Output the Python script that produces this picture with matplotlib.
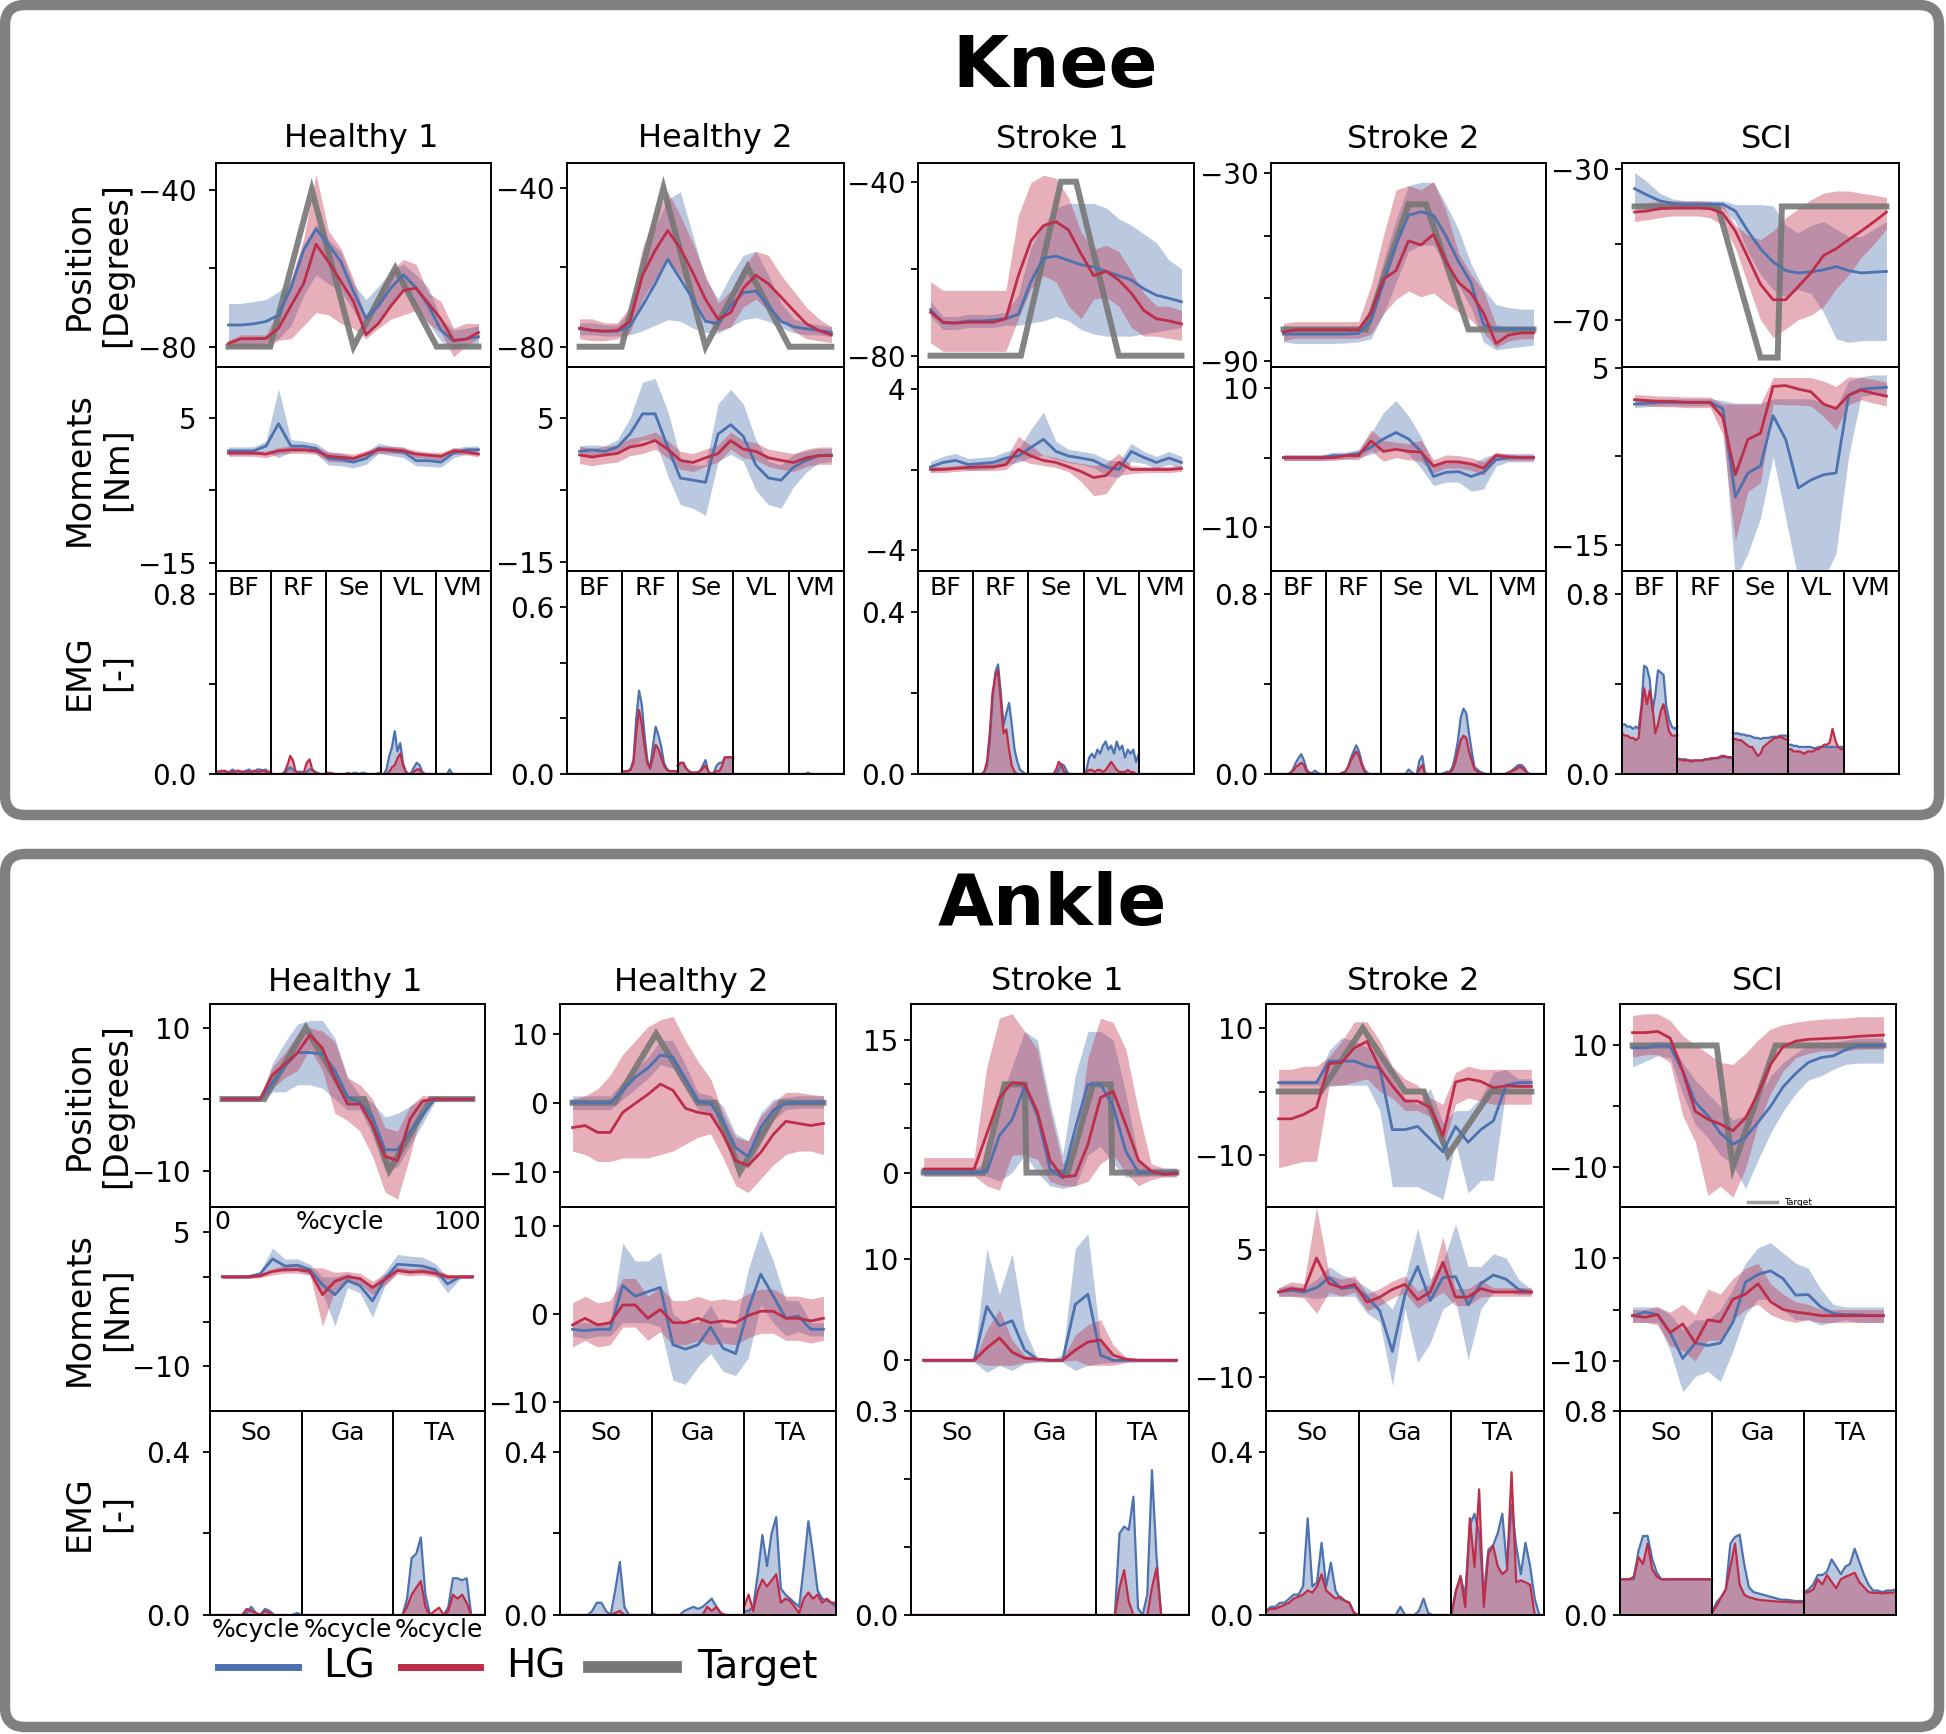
"""Knee and ankle panels: joint position, moments and EMG for LG / HG vs target."""
import matplotlib

matplotlib.use("Agg")
import matplotlib.pyplot as plt
from matplotlib.lines import Line2D
from matplotlib.patches import FancyBboxPatch

W, H = 1946, 1734
LG_COLOR = "#4c72b0"
HG_COLOR = "#be2e4b"
TARGET_COLOR = "#777777"

X = list(range(0, 101, 5))
GROUPS = ["Healthy 1", "Healthy 2", "Stroke 1", "Stroke 2", "SCI"]
KNEE_MUSCLES = ["BF", "RF", "Se", "VL", "VM"]
ANKLE_MUSCLES = ["So", "Ga", "TA"]

# ---------------- Knee: Healthy 1 ----------------
kh1_target_x = [0, 16.7, 33.3, 50, 66.7, 83.3, 100]
kh1_target_y = [-80, -80, -40, -80, -60, -80, -80]
kh1_pos_lg = [-74.5, -74.5, -74.2, -73.6, -72, -65, -55.5, -50, -54, -58.4, -66, -72.7, -69.6, -65, -61.7, -65, -69.6, -75.8, -78.6, -78, -77.5]
kh1_pos_lg_lo = [-79.8, -79.8, -79.5, -79, -78, -74.7, -67, -61.7, -64, -66, -70.8, -76.4, -74, -69.6, -65, -69.6, -74, -78.6, -80.3, -80.3, -79.8]
kh1_pos_lg_hi = [-69, -69, -68.5, -68, -66, -63, -54, -48.8, -52.7, -56, -64, -68, -64.6, -60.6, -59, -61.7, -65, -73, -75.8, -75.3, -74.7]
kh1_pos_hg = [-79.2, -78, -78, -77.9, -75.3, -69.6, -64, -53.9, -58.4, -63.4, -68.5, -77, -74.1, -69.6, -65.7, -65.1, -69, -73, -78.4, -78.1, -76.4]
kh1_pos_hg_lo = [-80.3, -80.3, -80.3, -80.3, -78.4, -78, -74.7, -71.3, -71.9, -74.1, -75.3, -78, -75.3, -73, -71.9, -70.8, -74.1, -76.4, -82.6, -79.8, -78]
kh1_pos_hg_hi = [-78.4, -77, -77, -77, -70.8, -62.9, -52.7, -36, -50.5, -55, -62.9, -73, -66.3, -60.6, -57.8, -59, -66.3, -68.5, -75.3, -74.1, -74.1]
kh1_mom_lg = [0.45, 0.45, 0.45, 1.1, 4.2, 1.1, 1.1, 0.8, -0.6, -0.75, -1.1, -0.6, 0.8, 0.45, 0.3, -0.9, -0.9, -1.1, 0.15, 0.6, 0.6]
kh1_mom_lg_lo = [-0.1, -0.1, -0.1, 0.4, -0.5, 0.3, 0.4, 0.1, -1.5, -1.6, -1.9, -1.4, 0.1, -0.2, -0.5, -1.6, -1.7, -1.8, -0.5, 0, 0]
kh1_mom_lg_hi = [1.0, 1.0, 1.0, 1.8, 9.0, 2.0, 1.8, 1.5, 0.3, 0.1, -0.3, 0.2, 1.5, 1.1, 1.0, -0.2, -0.2, -0.4, 0.8, 1.1, 1.1]
kh1_mom_hg = [0.15, 0.15, 0.15, 0, 0.45, 0.6, 0.6, 0.45, -0.3, -0.45, -0.6, 0, 0.6, 0.6, 0.45, 0, -0.15, -0.3, 0.45, 0.3, 0]
kh1_mom_hg_lo = [-0.3, -0.3, -0.3, -0.5, 0, 0.1, 0.1, 0, -1.0, -1.1, -1.2, -0.5, 0.1, 0.1, 0, -0.5, -0.6, -0.8, 0, -0.1, -0.4]
kh1_mom_hg_hi = [0.5, 0.5, 0.5, 0.4, 0.9, 1.1, 1.1, 1.0, 0.3, 0.2, 0, 0.5, 1.1, 1.1, 0.9, 0.5, 0.3, 0.2, 0.9, 0.7, 0.4]
kh1_emg_lg = [
    [0.01, 0.01, 0.015, 0.01, 0.005, 0.01, 0.02, 0.01, 0.015, 0.01, 0.01, 0.015, 0.02, 0.01, 0.01, 0.02, 0.02, 0.015, 0.02, 0.01, 0.01],
    [0, 0, 0, 0, 0, 0, 0.02, 0.03, 0.02, 0.01, 0.01, 0.01, 0.005, 0.01, 0.02, 0.02, 0.01, 0.005, 0, 0, 0],
    [0.005, 0.005, 0, 0, 0, 0, 0, 0, 0, 0, 0.005, 0.005, 0, 0.005, 0.005, 0, 0, 0, 0, 0.005, 0],
    [0, 0, 0.02, 0.08, 0.12, 0.19, 0.1, 0.137, 0.05, 0.01, 0, 0.005, 0.03, 0.05, 0.04, 0.01, 0, 0, 0, 0, 0],
    [0, 0, 0, 0, 0, 0.02, 0, 0, 0, 0, 0, 0, 0, 0, 0, 0, 0, 0, 0, 0, 0],
]
kh1_emg_hg = [
    [0.015, 0.01, 0.01, 0.015, 0.01, 0.005, 0.01, 0.01, 0.015, 0.01, 0.01, 0.01, 0.01, 0.01, 0.015, 0.01, 0.01, 0.015, 0.01, 0.01, 0.01],
    [0, 0, 0, 0, 0, 0.01, 0.04, 0.08, 0.06, 0.01, 0.005, 0, 0.01, 0.05, 0.065, 0.02, 0.005, 0, 0, 0, 0],
    [0.005, 0.005, 0.005, 0, 0, 0, 0, 0, 0.005, 0, 0, 0, 0, 0, 0, 0, 0, 0, 0, 0, 0],
    [0, 0, 0, 0.01, 0.03, 0.04, 0.07, 0.09, 0.04, 0.01, 0, 0, 0.01, 0.02, 0.02, 0.005, 0, 0, 0, 0, 0],
    [0] * 21,
]

# ---------------- Knee: Healthy 2 ----------------
kh2_target_x = [0, 16.7, 33.3, 50, 66.7, 83.3, 100]
kh2_target_y = [-80, -80, -40, -80, -60, -80, -80]
kh2_pos_lg = [-75.5, -75.9, -76.1, -76.1, -74.8, -69.7, -64.2, -58, -63, -68, -73.6, -74.2, -69.7, -66.4, -66, -69.7, -73.6, -75, -75.5, -75.9, -76.4]
kh2_pos_lg_lo = [-77, -77, -77.3, -77.3, -77, -76, -74.6, -73.2, -73.6, -75.3, -76.4, -76.6, -75, -73.2, -72.7, -73.6, -75.3, -76.5, -77, -77, -77.5]
kh2_pos_lg_hi = [-74, -74, -74.5, -74.5, -71, -60, -50, -43, -41, -52, -63, -68, -62, -57, -56, -62, -69, -73, -74, -74.5, -75]
kh2_pos_hg = [-75.3, -75.9, -76.1, -75.9, -73.6, -62, -55.8, -50.8, -55.3, -61.4, -68.1, -73.1, -71.4, -65.3, -62, -64.2, -67.5, -70.9, -74.2, -75.9, -77]
kh2_pos_hg_lo = [-78, -78.5, -78.5, -78, -76.5, -68, -63, -58, -62, -67, -73, -76, -75, -70, -68, -71, -73, -76, -78, -78.5, -79]
kh2_pos_hg_hi = [-73, -73, -74, -74, -70, -55, -47, -41, -47, -54, -62, -69, -66, -60, -56, -57, -62, -66, -70, -73, -75]
kh2_mom_lg = [0.4, 0.6, 0.4, 1.0, 2.8, 5.6, 5.6, 1.0, -3.3, -3.6, -3.9, 2.8, 4.1, 2.5, -1.5, -3.3, -3.6, -1.8, -0.85, -0.2, -0.1]
kh2_mom_lg_lo = [-0.3, -0.2, -0.3, 0.2, 1, 2, 2, -3, -7, -7.5, -8.5, -1, 0, -1, -5, -7, -7.5, -4.5, -2.5, -1.2, -1]
kh2_mom_lg_hi = [1.2, 1.3, 1.2, 2.0, 5, 10, 10.5, 6, -0.5, -1.5, -1.5, 7, 9, 7, 2, -1, -1.5, 0, 0.5, 0.8, 0.8]
kh2_mom_hg = [-0.1, -0.4, -0.1, 0.1, 1, 1.3, 1.9, 0.7, -0.85, -1.15, -0.5, 0.1, 1.9, 0.7, 0.4, -0.5, -0.85, -1.15, -0.5, -0.2, -0.2]
kh2_mom_hg_lo = [-1.3, -1.6, -1.3, -1.1, -0.2, 0.1, 0.7, -0.5, -2.1, -2.4, -1.7, -1.1, 0.7, -0.5, -0.8, -1.7, -2.1, -2.4, -1.7, -1.4, -1.4]
kh2_mom_hg_hi = [1.1, 0.8, 1.1, 1.3, 2.2, 2.5, 3.1, 1.9, 0.4, 0.1, 0.7, 1.3, 3.1, 1.9, 1.6, 0.7, 0.4, 0.1, 0.7, 1.0, 1.0]
kh2_emg_lg = [
    [0] * 21,
    [0.01, 0.01, 0.01, 0.02, 0.05, 0.2, 0.30, 0.25, 0.14, 0.05, 0.02, 0.1, 0.17, 0.14, 0.1, 0.04, 0.02, 0.01, 0.01, 0.01, 0.01],
    [0.03, 0.04, 0.04, 0.02, 0.01, 0.005, 0.005, 0.005, 0.01, 0.03, 0.05, 0.01, 0, 0.005, 0.03, 0.04, 0.04, 0.06, 0.06, 0.06, 0.06],
    [0] * 21,
    [0, 0, 0, 0, 0, 0, 0, 0.005, 0, 0, 0, 0, 0, 0, 0, 0, 0, 0, 0, 0, 0],
]
kh2_emg_hg = [
    [0] * 21,
    [0.01, 0.01, 0.01, 0.015, 0.04, 0.15, 0.23, 0.18, 0.1, 0.04, 0.02, 0.06, 0.105, 0.09, 0.06, 0.03, 0.015, 0.01, 0.01, 0.01, 0.01],
    [0.03, 0.04, 0.04, 0.02, 0.01, 0.005, 0.005, 0.005, 0.01, 0.02, 0.03, 0.01, 0, 0.005, 0.01, 0.01, 0.03, 0.06, 0.06, 0.06, 0.06],
    [0] * 21,
    [0] * 21,
]

# ---------------- Knee: Stroke 1 ----------------
ks1_target_x = [0, 36, 52, 58, 75, 100]
ks1_target_y = [-80, -80, -40, -40, -80, -80]
ks1_pos_lg = [-69.4, -72.5, -72.5, -72, -72, -71.8, -71.5, -70.5, -63, -57.6, -57.1, -58.1, -59.1, -59.6, -60.6, -61.6, -62.6, -64.6, -66.1, -66.8, -67.6]
ks1_pos_lg_lo = [-71, -74, -74, -73.5, -73.5, -73.5, -73, -73, -72.5, -72, -71, -72, -74, -75, -75.5, -75.5, -75.5, -75, -74.5, -74, -73.5]
ks1_pos_lg_hi = [-67.5, -71, -71, -70.5, -70.5, -70.5, -70, -66, -55, -50, -46, -45, -45, -45, -46, -48.5, -50, -52, -54, -58, -60]
ks1_pos_hg = [-70, -72.3, -72.5, -72.3, -72.3, -72.3, -71.5, -61.6, -53.6, -50.1, -49.2, -51.1, -56.6, -61.6, -60.6, -62.6, -65.6, -69.6, -71.5, -72, -72.7]
ks1_pos_hg_lo = [-77, -79, -79, -79, -79, -79, -79, -71.5, -64.6, -61.6, -63, -68.6, -71.5, -67, -66.6, -68.6, -73.5, -75.5, -75.5, -76, -76.5]
ks1_pos_hg_hi = [-63, -65, -65, -65, -65, -65, -65, -47.7, -40.2, -38.5, -39.2, -43.7, -51.6, -55.6, -54.6, -56, -60.6, -65.6, -68.6, -68.6, -69.6]
ks1_mom_lg = [0.13, 0.35, 0.45, 0.25, 0.3, 0.35, 0.57, 0.67, 1.1, 1.5, 0.9, 0.67, 0.57, 0.45, 0.13, 0, 0.9, 0.6, 0.35, 0.57, 0.35]
ks1_mom_lg_lo = [-0.15, 0.05, 0.15, -0.05, 0, 0.05, 0.25, 0.35, 0.6, 0.7, 0.5, 0.35, 0.25, 0.1, -0.3, -0.4, 0.4, 0.3, 0.05, 0.25, 0.05]
ks1_mom_lg_hi = [0.4, 0.65, 0.8, 0.55, 0.6, 0.65, 0.9, 1.0, 2.0, 2.85, 1.4, 1.0, 0.9, 0.8, 0.5, 0.4, 1.3, 0.9, 0.65, 0.9, 0.65]
ks1_mom_hg = [0, 0, 0.05, 0.1, 0.13, 0.13, 0.24, 1.0, 0.67, 0.45, 0.35, 0.13, -0.1, -0.4, -0.3, 0.35, 0, 0, 0, 0, 0.05]
ks1_mom_hg_lo = [-0.15, -0.15, -0.1, -0.05, -0.05, -0.05, 0, 0.5, 0.3, 0.2, 0.1, -0.1, -0.6, -1.3, -1.2, -0.3, -0.2, -0.15, -0.15, -0.15, -0.1]
ks1_mom_hg_hi = [0.15, 0.15, 0.2, 0.25, 0.3, 0.3, 0.5, 1.65, 1.2, 0.7, 0.6, 0.4, 0.3, 0.2, 0.3, 0.8, 0.2, 0.15, 0.15, 0.15, 0.2]
ks1_emg_lg = [
    [0] * 21,
    [0, 0, 0, 0, 0.005, 0.02, 0.08, 0.18, 0.25, 0.27, 0.2, 0.12, 0.15, 0.175, 0.12, 0.06, 0.03, 0.01, 0.005, 0, 0],
    [0, 0, 0, 0, 0, 0, 0, 0, 0, 0, 0, 0.01, 0.025, 0.02, 0.005, 0, 0, 0, 0, 0, 0],
    [0, 0.01, 0.04, 0.05, 0.04, 0.06, 0.05, 0.07, 0.08, 0.06, 0.07, 0.05, 0.08, 0.06, 0.07, 0.04, 0.06, 0.05, 0.06, 0.03, 0.05],
    [0] * 21,
]
ks1_emg_hg = [
    [0] * 21,
    [0, 0, 0, 0, 0.005, 0.03, 0.1, 0.2, 0.24, 0.256, 0.18, 0.1, 0.11, 0.06, 0.02, 0.005, 0, 0, 0, 0, 0],
    [0, 0, 0, 0, 0, 0, 0, 0, 0, 0, 0.01, 0.03, 0.02, 0.005, 0, 0, 0, 0, 0, 0, 0],
    [0, 0.005, 0.01, 0.01, 0.005, 0.01, 0.01, 0.005, 0.01, 0.02, 0.03, 0.02, 0.01, 0.005, 0.005, 0.005, 0.01, 0.005, 0.005, 0, 0],
    [0] * 21,
]

# ---------------- Knee: Stroke 2 ----------------
ks2_target_x = [0, 33, 50, 57, 74, 100]
ks2_target_y = [-80, -80, -40, -40, -80, -80]
ks2_pos_lg = [-81.5, -81.5, -81.5, -81.5, -81.5, -81.5, -81.3, -77.3, -65, -52.9, -43.5, -42.4, -43.5, -50.2, -58.3, -65, -78.5, -79.8, -79.8, -79.8, -79.8]
ks2_pos_lg_lo = [-84, -84.5, -84.5, -84.5, -84.5, -84.3, -84, -83, -75, -65, -55, -53, -53, -60, -66, -73, -84, -86.5, -86, -85.5, -85]
ks2_pos_lg_hi = [-79, -79, -79, -79, -79, -79, -79, -73, -58, -45, -34, -33, -33, -40, -48, -59, -67, -72, -73, -73.5, -73.5]
ks2_pos_hg = [-80.8, -80.1, -80.1, -80.1, -80.1, -80.1, -80.1, -74.7, -63.9, -61.2, -51.7, -53, -49.6, -58.3, -65, -68.4, -74.7, -84.5, -81.8, -81.1, -81.1]
ks2_pos_hg_lo = [-83.5, -82.8, -82.8, -82.8, -82.8, -82.8, -82.8, -81.5, -75, -70.4, -67.7, -69.6, -68.3, -71.6, -74.4, -77, -81, -85.8, -83.7, -83, -83]
ks2_pos_hg_hi = [-78, -77.5, -77.5, -77.5, -77.5, -77.5, -77.5, -66, -50, -35.4, -34, -35.4, -32.7, -42, -55.5, -62.3, -67.7, -78.5, -79.2, -79.2, -79.2]
ks2_mom_lg = [0, 0, 0, 0, 0.3, 0.3, 0.6, 1.5, 2.7, 3.6, 2.7, 0.9, -2.7, -2.1, -2.0, -2.7, -2.1, -0.3, 0, 0, 0]
ks2_mom_lg_lo = [-0.4, -0.4, -0.4, -0.4, -0.2, -0.2, 0, 0.5, 1.2, 1.5, 0.5, -1.5, -4, -3.5, -3.5, -4.8, -4.5, -1.2, -0.6, -0.6, -0.6]
ks2_mom_lg_hi = [0.4, 0.4, 0.4, 0.4, 0.8, 0.8, 1.2, 3.5, 6.5, 8.2, 6, 3, -1, -0.8, -0.6, -1, 0, 0.6, 0.6, 0.6, 0.6]
ks2_mom_hg = [0, 0, 0, 0, 0, 0.3, 0.3, 2.4, 0.9, 1.2, 0.9, 0.8, -1.2, -0.6, -0.6, -0.9, -1.5, 0.3, 0.1, 0, 0]
ks2_mom_hg_lo = [-0.4, -0.4, -0.4, -0.4, -0.4, -0.2, -0.3, 1.0, -0.5, 0, -0.3, -0.5, -2.2, -1.5, -1.5, -1.8, -2.5, -0.3, -0.4, -0.4, -0.4]
ks2_mom_hg_hi = [0.4, 0.4, 0.4, 0.4, 0.4, 0.7, 0.9, 4.0, 2.5, 2.2, 2.0, 2.5, -0.3, 0.4, 0.3, 0, -0.6, 0.8, 0.5, 0.4, 0.4]
ks2_emg_lg = [
    [0, 0, 0, 0, 0, 0, 0, 0.005, 0.02, 0.05, 0.07, 0.088, 0.06, 0.02, 0.005, 0.005, 0.015, 0.005, 0, 0, 0],
    [0, 0, 0, 0, 0, 0, 0.005, 0.01, 0.03, 0.07, 0.1, 0.127, 0.1, 0.05, 0.02, 0.005, 0, 0, 0, 0, 0],
    [0, 0, 0, 0, 0, 0, 0, 0, 0, 0, 0.02, 0.01, 0, 0, 0.06, 0.08, 0.005, 0, 0, 0, 0],
    [0, 0, 0, 0.005, 0.01, 0.01, 0.03, 0.08, 0.15, 0.25, 0.29, 0.27, 0.18, 0.1, 0.03, 0.02, 0.01, 0.005, 0, 0, 0],
    [0, 0, 0, 0, 0, 0, 0.005, 0.01, 0.02, 0.03, 0.04, 0.04, 0.03, 0.01, 0, 0, 0, 0, 0, 0, 0],
]
ks2_emg_hg = [
    [0, 0, 0, 0, 0, 0, 0, 0.005, 0.015, 0.03, 0.04, 0.05, 0.04, 0.01, 0.005, 0, 0, 0, 0, 0, 0],
    [0, 0, 0, 0, 0, 0, 0.005, 0.01, 0.03, 0.06, 0.08, 0.1, 0.08, 0.04, 0.01, 0, 0, 0, 0, 0, 0],
    [0, 0, 0, 0, 0, 0, 0, 0, 0, 0, 0, 0, 0, 0, 0.02, 0.04, 0, 0, 0, 0, 0],
    [0, 0, 0, 0, 0.005, 0.005, 0.02, 0.05, 0.1, 0.15, 0.17, 0.16, 0.1, 0.06, 0.02, 0.01, 0.005, 0, 0, 0, 0],
    [0, 0, 0, 0, 0, 0, 0.005, 0.01, 0.015, 0.02, 0.03, 0.03, 0.02, 0.005, 0, 0, 0, 0, 0, 0, 0],
]

# ---------------- Knee: SCI ----------------
ksci_target_x = [0, 33, 50, 56.8, 58.5, 100]
ksci_target_y = [-40, -40, -80, -80, -40, -40]
ksci_pos_lg = [-35.3, -37, -38.5, -39.2, -39.4, -39.4, -39.4, -39.4, -41.2, -46.5, -51.2, -54.7, -57, -57.6, -57.3, -56.8, -55.9, -57, -57.6, -57.4, -57.2]
ksci_pos_lg_lo = [-40, -40, -40, -40.5, -40.5, -40.5, -40.5, -40.5, -44, -52, -58, -62, -64, -62, -63, -68, -75, -76, -75.5, -75.5, -75.5]
ksci_pos_lg_hi = [-31, -33.5, -36.5, -38, -38.5, -38.5, -38.5, -38.5, -39.5, -39.5, -39.5, -39.8, -45, -47, -45, -44, -46, -48, -48, -46, -44]
ksci_pos_hg = [-41.5, -41.2, -40.6, -40.4, -40.4, -40.4, -40.6, -41.8, -46.5, -53.5, -60.6, -64.7, -64.7, -61.2, -57.6, -53, -51.2, -48.8, -46.5, -44.1, -41.5]
ksci_pos_hg_lo = [-44, -43.5, -43, -42.5, -42.5, -42.5, -43, -45, -51, -60.6, -70, -74.7, -72.4, -70, -68.8, -66.5, -61.8, -58.2, -53.5, -50, -45.9]
ksci_pos_hg_hi = [-39.4, -39, -38.5, -38.5, -38.5, -38.5, -38.7, -39.5, -45, -47.6, -48.8, -46.5, -43, -40.6, -38.2, -36.5, -35.9, -35.9, -36.5, -37, -37.6]
ksci_mom_lg = [0.9, 1.0, 1.1, 1.1, 1.1, 1.1, 1.1, 0.4, -9.6, -6.9, -6.1, -0.4, -3.1, -8.6, -7.7, -7.1, -6.9, 1.9, 2.6, 2.7, 2.8]
ksci_mom_lg_lo = [0.5, 0.6, 0.7, 0.7, 0.7, 0.7, 0.7, -0.5, -19, -16, -12, -5, -12, -19, -19, -19, -16, -5, 1.8, 2, 2]
ksci_mom_lg_hi = [1.3, 1.4, 1.5, 1.5, 1.5, 1.5, 1.5, 1.3, 1.0, 1.0, 1.0, 1.5, 1.5, 1.5, 1.5, 1.0, 0.5, 3.5, 4, 4.2, 4.2]
ksci_mom_hg = [1.4, 1.3, 1.2, 1.2, 1.1, 1.1, 1.1, -0.6, -7.1, -3.1, -2.4, 2.9, 3.0, 2.6, 2.3, 0.9, 0.4, 1.9, 2.5, 2.1, 1.8]
ksci_mom_hg_lo = [0.8, 0.7, 0.6, 0.6, 0.5, 0.5, 0.5, -2.5, -14.6, -9, -8, 0.9, 0.8, 0.8, 0.7, -0.5, -2, 0.8, 1.4, 1.0, 0.7]
ksci_mom_hg_hi = [2.0, 1.9, 1.8, 1.8, 1.7, 1.7, 1.7, 0.9, 0.9, 0.9, 0.9, 3.9, 3.9, 3.9, 3.9, 3.5, 2.9, 4.0, 3.9, 3.7, 3.4]
ksci_emg_lg = [
    [0.22, 0.22, 0.21, 0.21, 0.2, 0.21, 0.2, 0.3, 0.48, 0.47, 0.42, 0.28, 0.35, 0.46, 0.45, 0.44, 0.3, 0.24, 0.21, 0.2, 0.21],
    [0.07, 0.065, 0.065, 0.065, 0.06, 0.06, 0.06, 0.06, 0.06, 0.06, 0.065, 0.065, 0.065, 0.07, 0.07, 0.07, 0.075, 0.075, 0.075, 0.07, 0.07],
    [0.18, 0.18, 0.18, 0.175, 0.175, 0.17, 0.17, 0.165, 0.16, 0.16, 0.155, 0.16, 0.16, 0.16, 0.165, 0.165, 0.165, 0.17, 0.17, 0.17, 0.17],
    [0.13, 0.13, 0.125, 0.125, 0.12, 0.12, 0.12, 0.12, 0.12, 0.115, 0.115, 0.12, 0.12, 0.12, 0.12, 0.12, 0.12, 0.12, 0.12, 0.12, 0.12],
    [0] * 21,
]
ksci_emg_hg = [
    [0.18, 0.17, 0.17, 0.16, 0.16, 0.15, 0.16, 0.28, 0.38, 0.31, 0.37, 0.3, 0.18, 0.22, 0.28, 0.31, 0.25, 0.19, 0.17, 0.17, 0.17],
    [0.065, 0.065, 0.06, 0.06, 0.06, 0.055, 0.06, 0.06, 0.06, 0.06, 0.065, 0.065, 0.07, 0.07, 0.07, 0.075, 0.08, 0.08, 0.075, 0.075, 0.075],
    [0.155, 0.155, 0.15, 0.15, 0.14, 0.13, 0.12, 0.12, 0.1, 0.08, 0.09, 0.12, 0.13, 0.14, 0.15, 0.16, 0.16, 0.165, 0.16, 0.155, 0.15],
    [0.11, 0.11, 0.1, 0.1, 0.1, 0.095, 0.09, 0.1, 0.1, 0.1, 0.11, 0.11, 0.12, 0.13, 0.13, 0.14, 0.2, 0.15, 0.12, 0.11, 0.11],
    [0] * 21,
]

# ---------------- Ankle: Healthy 1 ----------------
ah1_target_x = [0, 16.7, 33.3, 50, 56.7, 66.7, 83.3, 100]
ah1_target_y = [0, 0, 10, 0, 0, -10, 0, 0]
ah1_pos_lg = [0, 0, 0, 0, 2.2, 4.6, 6.5, 6.5, 6.3, 4.0, 0.3, -0.5, -2.5, -7.1, -7.1, -4.6, -2.2, 0, 0, 0, 0]
ah1_pos_lg_lo = [-0.3, -0.3, -0.3, -0.3, 1.0, 1.0, 2.0, 2.0, 1.5, 0, -1.5, -1.5, -5, -10, -9.5, -6.5, -3.5, -0.3, -0.2, -0.2, -0.2]
ah1_pos_lg_hi = [0.3, 0.3, 0.3, 0.3, 5.0, 8.0, 10.5, 11, 11, 8.5, 3, 0.5, -0.5, -2.5, -2, -1, 0, 0.3, 0.2, 0.2, 0.2]
ah1_pos_hg = [0, 0, 0, 0, 3.4, 4.9, 6.5, 9.0, 7.1, 2.8, -0.7, -0.7, -3.7, -8.0, -8.6, -2.8, -0.3, 0, 0, 0, 0]
ah1_pos_hg_lo = [-0.2, -0.2, -0.2, -0.2, 1.5, 3, 4, 7, 4, -2, -3, -4.5, -8, -13, -14, -8, -1, -0.3, -0.2, -0.2, -0.2]
ah1_pos_hg_hi = [0.2, 0.2, 0.2, 0.2, 4.5, 6.5, 9, 10, 9.5, 8, 3, 2, 0, -4, -4.5, -1, 0.5, 0.3, 0.2, 0.2, 0.2]
ah1_mom_lg = [0, 0, 0, 0.3, 2.0, 1.2, 1.3, 0.8, -0.9, -2.0, -0.4, -1.0, -2.7, -0.2, 1.4, 1.3, 1.2, 0.8, -0.8, 0, 0]
ah1_mom_lg_lo = [-0.2, -0.2, -0.2, 0, 1.0, 0.6, 0.7, 0.2, -1.8, -5.5, -1.2, -1.8, -4.5, -1.0, 0.6, 0.5, 0.4, 0.2, -1.8, -0.2, -0.2]
ah1_mom_lg_hi = [0.2, 0.2, 0.2, 0.6, 3.2, 2.0, 2.0, 1.4, 0, 0, 0.4, -0.2, -1, 0.6, 2.5, 2.3, 2.2, 1.5, 0, 0.2, 0.2]
ah1_mom_hg = [0, 0, 0, 0.1, 0.6, 0.8, 0.8, 0.6, -2.0, -0.5, 0, -0.2, -1.2, -0.3, 0.7, 0.5, 0.6, 0.4, 0, 0, 0]
ah1_mom_hg_lo = [-0.2, -0.2, -0.2, -0.1, 0.2, 0.4, 0.4, 0.2, -5.5, -1.5, -0.6, -0.8, -2.0, -0.9, 0.3, 0.1, 0.2, 0, -0.3, -0.2, -0.2]
ah1_mom_hg_hi = [0.2, 0.2, 0.2, 0.3, 1.0, 1.2, 1.2, 1.0, 1.0, 0.5, 0.6, 0.4, -0.5, 0.3, 1.1, 0.9, 1.0, 0.8, 0.3, 0.2, 0.2]
ah1_emg_lg = [
    [0, 0, 0, 0, 0, 0, 0, 0, 0.005, 0.02, 0.005, 0, 0.015, 0.01, 0, 0, 0, 0, 0, 0.005, 0],
    [0] * 21,
    [0, 0, 0, 0.04, 0.14, 0.15, 0.19, 0.05, 0, 0, 0, 0, 0.02, 0.09, 0.09, 0.085, 0.09, 0, 0, 0, 0],
]
ah1_emg_hg = [
    [0, 0, 0, 0, 0, 0, 0, 0, 0.015, 0.01, 0.005, 0, 0.01, 0.005, 0, 0, 0, 0, 0, 0, 0],
    [0] * 21,
    [0, 0, 0, 0.02, 0.05, 0.067, 0.083, 0.02, 0, 0.01, 0.018, 0, 0.01, 0.05, 0.04, 0.05, 0.03, 0, 0, 0, 0],
]

# ---------------- Ankle: Healthy 2 ----------------
ah2_target_x = [0, 16.7, 33.3, 50, 56.7, 66.7, 83.3, 100]
ah2_target_y = [0, 0, 10, 0, 0, -10, 0, 0]
ah2_pos_lg = [0, 0, 0, 0, 1.8, 3.7, 5.0, 6.9, 6.6, 3.4, 0.2, -0.1, -2.7, -6.5, -7.8, -3.6, -1.1, -0.1, 0, 0, 0]
ah2_pos_lg_lo = [-1, -1, -1, -1, 0.5, 2, 3.5, 5.5, 5, 2, -1, -1.5, -4.5, -8.5, -9.5, -6, -2.5, -1, -0.8, -0.8, -0.8]
ah2_pos_lg_hi = [1, 1, 1, 1, 3, 5, 6.5, 9, 9, 5.5, 1.5, 1, -0.5, -4.5, -5.5, -1.5, 0.5, 0.8, 1, 1, 1]
ah2_pos_hg = [-3.6, -3.3, -4.3, -4.3, -1.4, -0.1, 1.2, 2.7, 1.8, -0.8, -1.4, -1.7, -4.6, -8.4, -9.1, -7.2, -4.6, -2.7, -3.0, -3.3, -3.0]
ah2_pos_hg_lo = [-7, -7.5, -8.5, -8.5, -8, -8, -8, -7.5, -7, -6, -5, -4.5, -8, -12, -13, -11, -9, -7.5, -7, -7, -7.5]
ah2_pos_hg_hi = [0.5, 1, 2, 4, 7, 9, 11, 12, 12.5, 9, 6, 3.5, -1.5, -5, -5.5, -2, 0, 1.5, 1.5, 1.2, 1]
ah2_mom_lg = [-1.75, -1.9, -1.75, -1.75, 3.2, 2.0, 2.5, 3.0, -3.5, -4.0, -3.5, -1.5, -3.9, -4.5, 0.5, 4.5, 2.0, -0.5, -0.25, -1.75, -1.75]
ah2_mom_lg_lo = [-2.5, -2.8, -2.5, -2.5, -1, -1, -1, -1.5, -7.5, -8, -6, -4.5, -6.5, -7, -5, 1, -1, -2.5, -2, -2.5, -2.5]
ah2_mom_lg_hi = [-1, -1, -1, -1, 8, 6, 6, 7, 0, -1, -1, 1, -1.5, -1.5, 5, 9.5, 6, 1.5, 1.5, -1, -1]
ah2_mom_hg = [-1.25, -0.5, -1.25, -1.0, 1.0, 1.0, -0.5, 0.5, -1.0, -1.0, -0.5, -1.0, -0.8, -1.0, -0.2, 0.3, 0.3, -0.5, -0.5, -0.8, -0.5]
ah2_mom_hg_lo = [-3.75, -3, -3.75, -3.5, -1.5, -1.5, -3, -2, -3.5, -3.5, -3, -3.5, -3.3, -3.5, -2.7, -2.2, -2.2, -3, -3, -3.3, -3]
ah2_mom_hg_hi = [1.25, 2, 1.25, 1.5, 4, 4, 2, 3, 1.5, 1.5, 2, 1.5, 1.7, 1.5, 2.3, 2.8, 2.8, 2, 2, 1.7, 2]
ah2_emg_lg = [
    [0, 0, 0, 0, 0, 0, 0, 0.01, 0.03, 0.03, 0.01, 0, 0.06, 0.13, 0.02, 0, 0, 0, 0, 0, 0],
    [0.005, 0, 0, 0, 0, 0, 0, 0.01, 0.015, 0.02, 0.015, 0.02, 0.03, 0.04, 0.02, 0, 0, 0, 0, 0, 0],
    [0.01, 0.01, 0.02, 0.1, 0.196, 0.12, 0.2, 0.24, 0.065, 0.05, 0.04, 0.03, 0.02, 0.12, 0.23, 0.15, 0.06, 0.04, 0.035, 0.03, 0.02],
]
ah2_emg_hg = [
    [0, 0, 0, 0, 0, 0, 0, 0, 0, 0, 0, 0, 0.005, 0.01, 0, 0, 0, 0, 0, 0, 0],
    [0, 0, 0, 0, 0, 0, 0, 0, 0, 0, 0, 0, 0.02, 0.01, 0.02, 0.005, 0, 0, 0, 0, 0],
    [0.02, 0.05, 0.01, 0.06, 0.087, 0.07, 0.085, 0.1, 0.03, 0.04, 0.035, 0.02, 0.005, 0.04, 0.055, 0.04, 0.05, 0.03, 0.04, 0.03, 0.03],
]

# ---------------- Ankle: Stroke 1 ----------------
as1_target_x = [0, 23.5, 32, 40, 40.7, 57, 67, 74, 74.6, 100]
as1_target_y = [0, 0, 10, 10, 0, 0, 10, 10, 0, 0]
as1_pos_lg = [0, 0, 0, 0, 0, 0.1, 4.2, 6.0, 9.8, 6.5, 0.4, -0.6, 5.0, 10.0, 10.0, 7.5, 2.4, 0, 0, 0, 0]
as1_pos_lg_lo = [-0.4, -0.4, -0.4, -0.4, -0.4, -0.4, -1, 0, 2, 0, -1.5, -1.8, -1.5, 2, 3, 1, -0.5, -0.5, -0.4, -0.4, -0.4]
as1_pos_lg_hi = [0.5, 0.5, 0.5, 0.5, 0.5, 1, 8, 12, 16, 15, 8, 2, 11, 16, 16, 15, 9, 1.5, 0.5, 0.5, 0.5]
as1_pos_hg = [0.4, 0.4, 0.4, 0.4, 0.4, 4.4, 8.5, 10.2, 10, 6.9, 1.4, -0.5, -0.35, 3.2, 8.5, 9.2, 5.4, 1.4, 0.15, -0.2, -0.1]
as1_pos_hg_lo = [-0.4, -0.4, -0.4, -0.4, -0.4, -1.5, -2, 2, 2, 1.5, -1, -1.5, -1.5, -1, 1, 2, 0, -1.5, -0.8, -0.5, -0.5]
as1_pos_hg_hi = [1.7, 1.7, 1.7, 1.7, 1.7, 12, 17.5, 18, 16, 14, 7, 1, 3, 13, 17.5, 17, 14, 7, 1, 0.5, 0.5]
as1_mom_lg = [0, 0, 0, 0, 0, 5.3, 3.4, 3.9, 1.0, 0.1, 0, 0, 5.5, 6.5, 0.5, 0, 0, 0, 0, 0, 0]
as1_mom_lg_lo = [-0.2, -0.2, -0.2, -0.2, -0.2, -1.2, -0.5, -1, -0.3, -0.2, -0.2, -0.2, -1, -0.5, -0.3, -0.2, -0.2, -0.2, -0.2, -0.2, -0.2]
as1_mom_lg_hi = [0.1, 0.1, 0.1, 0.1, 0.2, 11, 6.5, 10.5, 3, 0.2, 0.1, 0.5, 11, 12.5, 2, 0.2, 0.1, 0.1, 0.1, 0.1, 0.1]
as1_mom_hg = [0, 0, 0, 0, 0, 1.2, 2.2, 0.8, 0.2, 0.1, 0, 0, 1.0, 1.8, 2.0, 0.5, 0.1, 0, 0, 0, 0]
as1_mom_hg_lo = [-0.1, -0.1, -0.1, -0.1, -0.1, -0.5, -0.5, -0.5, -0.2, -0.1, -0.1, -0.1, 0, -0.5, -0.5, -0.5, -0.2, -0.1, -0.1, -0.1, -0.1]
as1_mom_hg_hi = [0.1, 0.1, 0.1, 0.1, 0.1, 3, 5, 2, 0.5, 0.2, 0.1, 0.2, 2.5, 3.5, 4, 1.5, 0.3, 0.1, 0.1, 0.1, 0.1]
as1_emg_lg = [
    [0] * 21,
    [0] * 21,
    [0, 0, 0, 0, 0, 0.12, 0.13, 0.125, 0.174, 0.01, 0, 0.03, 0.213, 0.085, 0, 0, 0, 0, 0, 0, 0],
]
as1_emg_hg = [
    [0] * 21,
    [0] * 21,
    [0, 0, 0, 0, 0, 0.04, 0.066, 0.02, 0, 0, 0, 0, 0.04, 0.069, 0, 0, 0, 0, 0, 0, 0],
]

# ---------------- Ankle: Stroke 2 ----------------
as2_target_x = [0, 16.7, 33.3, 50, 57.5, 67, 84, 100]
as2_target_y = [0, 0, 10, 0, 0, -10, 0, 0]
as2_pos_lg = [1.4, 1.4, 1.4, 1.4, 4.8, 4.8, 4.8, 4.0, 3.7, -6.0, -6.0, -5.5, -7.5, -9.5, -5.5, -8.0, -6.0, -4.6, 1.0, 1.4, 1.4]
as2_pos_lg_lo = [1.0, 1.0, 1.0, 1.0, 0.8, 1, 1, 1, -3, -15, -15, -15, -16, -17, -8, -16, -14, -14, 0.5, 0.8, 0.8]
as2_pos_lg_hi = [1.8, 1.8, 1.8, 1.8, 6.5, 8.5, 8, 7, 6, 2, -1, -2, 0.5, -5, -3, -3, -1, 3, 3.5, 2, 2]
as2_pos_hg = [-4.3, -4.3, -3.6, -2.5, 4.4, 4.6, 6.9, 7.9, 3.7, 0.9, -1.5, -1.5, -2.5, -7.0, 1.5, 2.0, 1.6, 0.6, 0.9, 0.8, 0.8]
as2_pos_hg_lo = [-12, -11.5, -11, -11, 1, 1, 1.5, 2, 0, -1, -3, -3, -4, -9, -2, -1, -1.5, -2, -2, -2, -2]
as2_pos_hg_hi = [3.5, 3.5, 4, 4, 5.5, 8, 11, 11, 8, 4, 2, 1, -1, -2, 3, 4, 3.5, 3.5, 3.5, 3.5, 3.5]
as2_mom_lg = [0, 0.2, 0, 0.5, 1.7, 0.4, 0.6, -0.6, -2.2, -7.0, -0.3, 3.0, -1.0, 1.7, 1.8, -1.5, 1.0, 2.0, 1.5, 0.3, 0]
as2_mom_lg_lo = [-0.5, -0.5, -0.5, -0.8, -0.5, -0.5, -0.5, -2.5, -3.5, -11, -2, -8.3, -6, -2, -1, -8, -2, 0, 0, -0.3, -0.3]
as2_mom_lg_hi = [0.5, 0.8, 0.5, 1.5, 3, 2, 1.5, 0.5, -0.5, -2, 1.5, 7.5, 1.5, 3.5, 8, 3, 3, 4.5, 4, 1.5, 0.3]
as2_mom_hg = [0, 0.4, 0.2, 4.0, 1.0, 0.5, 0.9, -1.2, -0.6, 0.3, 0.9, -0.9, 0, 3.5, -0.6, -0.6, 0.4, 0, 0, 0, 0]
as2_mom_hg_lo = [-0.5, -0.5, -0.7, -2.5, 0, -0.5, 0, -2.2, -1.6, -0.7, -0.1, -1.9, -1, 0, -1.6, -1.6, -0.6, -0.5, -0.5, -0.5, -0.5]
as2_mom_hg_hi = [0.5, 1.2, 1, 10, 2, 1.5, 1.9, -0.2, 0.4, 1.3, 1.9, 0.1, 1, 6.5, 0.4, 0.4, 1.4, 0.5, 0.5, 0.5, 0.5]
as2_emg_lg = [
    [0.01, 0.02, 0.02, 0.03, 0.03, 0.04, 0.05, 0.05, 0.07, 0.237, 0.07, 0.08, 0.177, 0.07, 0.128, 0.06, 0.04, 0.035, 0.03, 0.005, 0],
    [0, 0, 0, 0, 0, 0, 0, 0, 0, 0.02, 0, 0, 0, 0.01, 0.04, 0.005, 0, 0, 0, 0, 0],
    [0, 0.06, 0.09, 0.05, 0.22, 0.248, 0.2, 0.05, 0.16, 0.17, 0.2, 0.248, 0.12, 0.27, 0.17, 0.1, 0.177, 0.12, 0.04, 0, 0],
]
as2_emg_hg = [
    [0.01, 0.015, 0.015, 0.02, 0.025, 0.03, 0.04, 0.045, 0.05, 0.06, 0.055, 0.07, 0.1, 0.06, 0.05, 0.04, 0.045, 0.035, 0.03, 0.005, 0],
    [0] * 21,
    [0, 0.06, 0.096, 0.02, 0.237, 0.118, 0.308, 0.02, 0.15, 0.17, 0.12, 0.1, 0.11, 0.35, 0.08, 0.085, 0.08, 0.074, 0, 0, 0],
]

# ---------------- Ankle: SCI ----------------
asci_target_x = [0, 33.5, 40, 57, 100]
asci_target_y = [10, 10, -10, 10, 10]
asci_pos_lg = [9.6, 9.6, 10, 9.8, 5.8, 0.7, -1.5, -4.4, -6.2, -5.1, -2.6, 0, 3.2, 5.4, 7.2, 8.0, 8.3, 9.3, 10, 10, 10]
asci_pos_lg_lo = [6.5, 7.4, 8.3, 8, 2.1, -3, -5.1, -8, -9.5, -13.5, -8.8, -4.4, -0.8, 2.1, 4.3, 5, 6.1, 6.9, 7.1, 7.1, 7.1]
asci_pos_lg_hi = [10, 10.3, 10.7, 10.5, 7.2, 4.3, 2.1, 0, -2.2, -1.5, 1.4, 5, 7.2, 8.7, 10.1, 10.5, 10.5, 10.9, 11.2, 11.2, 11.2]
asci_pos_hg = [12.1, 12.1, 12.3, 11.2, 5.8, -0.8, -2.1, -2.9, -4.0, -1.9, 2.1, 6.9, 9.8, 10.7, 11.0, 11.1, 11.2, 11.3, 11.5, 11.6, 11.7]
asci_pos_hg_lo = [8.1, 8.5, 8.5, 7.2, -1.5, -5.8, -14.6, -13.1, -14.9, -10.2, -2.9, 2.1, 5.8, 8, 8.7, 9.1, 9.1, 9.1, 9.4, 9.4, 9.4]
asci_pos_hg_hi = [14.9, 15.2, 15.2, 14.1, 11.6, 10.1, 8.7, 7.2, 6.9, 8.7, 10.9, 12.7, 13.4, 13.8, 14.1, 14.3, 14.4, 14.5, 14.7, 14.7, 14.7]
asci_mom_lg = [-1.2, -0.5, -1.0, -4.5, -9.5, -6.5, -7.0, -6.5, -2.5, 5.3, 6.8, 7.5, 6.0, 2.8, 2.9, 0.5, -0.8, -1.0, -1.0, -1.2, -1.2]
asci_mom_lg_lo = [-2.5, -2.5, -2.5, -8, -16, -13, -12, -14, -8, -1, 2, 2, 0, -2, -2, -3, -2.5, -2, -2.5, -2.5, -2.5]
asci_mom_lg_hi = [0.5, 0.5, 0.5, -1, -4, -2, -2, 0, 4, 9, 12, 13, 11, 9, 8, 4, 1, 0.5, 0.5, 0.5, 0.5]
asci_mom_hg = [-1.2, -1.5, -1.0, -4.5, -2.8, -6.5, -2.0, -2.4, 2.0, 3.0, 5.0, 1.5, 0, -0.5, -0.8, -1.2, -1.2, -1.2, -1.2, -1.2, -1.2]
asci_mom_hg_lo = [-2.5, -2.5, -3, -7, -8, -10, -6, -6, -2, 0, 1, -1, -2, -2.5, -2, -2.5, -2.5, -2.5, -2.5, -2.5, -2.5]
asci_mom_hg_hi = [0, 0, 0.5, -0.5, 1, -1, 4, 3, 6, 8, 9, 5, 3, 1.5, 1, 0, 0, 0, 0, 0, 0]
asci_emg_lg = [
    [0.14, 0.14, 0.14, 0.14, 0.25, 0.31, 0.31, 0.22, 0.166, 0.14, 0.14, 0.14, 0.14, 0.14, 0.14, 0.14, 0.14, 0.14, 0.14, 0.14, 0.14],
    [0.01, 0.05, 0.07, 0.1, 0.28, 0.306, 0.315, 0.2, 0.11, 0.09, 0.085, 0.08, 0.075, 0.07, 0.065, 0.06, 0.06, 0.058, 0.055, 0.055, 0.055],
    [0.09, 0.1, 0.12, 0.157, 0.157, 0.17, 0.218, 0.19, 0.16, 0.19, 0.2, 0.26, 0.21, 0.16, 0.12, 0.096, 0.096, 0.09, 0.096, 0.096, 0.1],
]
asci_emg_hg = [
    [0.14, 0.14, 0.14, 0.15, 0.227, 0.2, 0.28, 0.18, 0.15, 0.14, 0.14, 0.14, 0.14, 0.14, 0.14, 0.14, 0.14, 0.14, 0.14, 0.14, 0.14],
    [0.01, 0.035, 0.07, 0.1, 0.19, 0.28, 0.12, 0.08, 0.07, 0.065, 0.06, 0.058, 0.056, 0.055, 0.053, 0.052, 0.052, 0.05, 0.05, 0.05, 0.05],
    [0.087, 0.09, 0.1, 0.14, 0.12, 0.157, 0.13, 0.105, 0.14, 0.15, 0.157, 0.166, 0.13, 0.11, 0.09, 0.087, 0.087, 0.085, 0.087, 0.087, 0.09],
]

# y-axis settings: (ylim, ticks, which ticks get a label)
knee_pos_axis = [((-85.2, -33.2), [-80, -60, -40], [1, 0, 1]),
                 ((-85.1, -33.8), [-80, -60, -40], [1, 0, 1]),
                 ((-82.6, -35.7), [-80, -60, -40], [1, 0, 1]),
                 ((-92.0, -26.8), [-90, -70, -50, -30], [1, 0, 0, 1]),
                 ((-82.5, -28.5), [-70, -50, -30], [1, 0, 1])]
knee_mom_axis = [((-16.1, 12.0), [-15, -5, 5], [1, 0, 1]),
                 ((-16.2, 12.1), [-15, -5, 5], [1, 0, 1]),
                 ((-5.05, 5.1), [-4, 0, 4], [1, 0, 1]),
                 ((-16.25, 13.0), [-10, 0, 10], [1, 0, 1]),
                 ((-18.0, 5.1), [-15, -5, 5], [1, 0, 1])]
knee_emg_axis = [((0, 0.9), [0, 0.4, 0.8], [1, 0, 1]),
                 ((0, 0.73), [0, 0.2, 0.4, 0.6], [1, 0, 0, 1]),
                 ((0, 0.5), [0, 0.2, 0.4], [1, 0, 1]),
                 ((0, 0.9), [0, 0.4, 0.8], [1, 0, 1]),
                 ((0, 0.9), [0, 0.4, 0.8], [1, 0, 1])]
ankle_pos_axis = [((-15.1, 13.3), [-10, 0, 10], [1, 0, 1]),
                  ((-15.1, 14.3), [-10, 0, 10], [1, 1, 1]),
                  ((-3.9, 19.1), [0, 5, 10, 15], [1, 0, 0, 1]),
                  ((-18.2, 13.8), [-10, 0, 10], [1, 0, 1]),
                  ((-16.5, 16.8), [-10, 0, 10], [1, 0, 1])]
ankle_mom_axis = [((-15.0, 7.8), [-10, -5, 0, 5], [1, 0, 0, 1]),
                  ((-11.0, 12.1), [-10, 0, 10], [1, 1, 1]),
                  ((-5.0, 15.1), [0, 10], [1, 1]),
                  ((-14.0, 10.0), [-10, -2.5, 5], [1, 0, 1]),
                  ((-19.7, 19.9), [-10, 0, 10], [1, 0, 1])]
ankle_emg_axis = [((0, 0.5), [0, 0.2, 0.4], [1, 0, 1]),
                  ((0, 0.5), [0, 0.2, 0.4], [1, 0, 1]),
                  ((0, 0.3), [0, 0.1, 0.2, 0.3], [1, 0, 0, 1]),
                  ((0, 0.5), [0, 0.2, 0.4], [1, 0, 1]),
                  ((0, 0.8), [0, 0.4, 0.8], [1, 0, 1])]

KNEE = [
    (kh1_target_x, kh1_target_y, (kh1_pos_lg, kh1_pos_lg_lo, kh1_pos_lg_hi, kh1_pos_hg, kh1_pos_hg_lo, kh1_pos_hg_hi),
     (kh1_mom_lg, kh1_mom_lg_lo, kh1_mom_lg_hi, kh1_mom_hg, kh1_mom_hg_lo, kh1_mom_hg_hi), kh1_emg_lg, kh1_emg_hg),
    (kh2_target_x, kh2_target_y, (kh2_pos_lg, kh2_pos_lg_lo, kh2_pos_lg_hi, kh2_pos_hg, kh2_pos_hg_lo, kh2_pos_hg_hi),
     (kh2_mom_lg, kh2_mom_lg_lo, kh2_mom_lg_hi, kh2_mom_hg, kh2_mom_hg_lo, kh2_mom_hg_hi), kh2_emg_lg, kh2_emg_hg),
    (ks1_target_x, ks1_target_y, (ks1_pos_lg, ks1_pos_lg_lo, ks1_pos_lg_hi, ks1_pos_hg, ks1_pos_hg_lo, ks1_pos_hg_hi),
     (ks1_mom_lg, ks1_mom_lg_lo, ks1_mom_lg_hi, ks1_mom_hg, ks1_mom_hg_lo, ks1_mom_hg_hi), ks1_emg_lg, ks1_emg_hg),
    (ks2_target_x, ks2_target_y, (ks2_pos_lg, ks2_pos_lg_lo, ks2_pos_lg_hi, ks2_pos_hg, ks2_pos_hg_lo, ks2_pos_hg_hi),
     (ks2_mom_lg, ks2_mom_lg_lo, ks2_mom_lg_hi, ks2_mom_hg, ks2_mom_hg_lo, ks2_mom_hg_hi), ks2_emg_lg, ks2_emg_hg),
    (ksci_target_x, ksci_target_y, (ksci_pos_lg, ksci_pos_lg_lo, ksci_pos_lg_hi, ksci_pos_hg, ksci_pos_hg_lo, ksci_pos_hg_hi),
     (ksci_mom_lg, ksci_mom_lg_lo, ksci_mom_lg_hi, ksci_mom_hg, ksci_mom_hg_lo, ksci_mom_hg_hi), ksci_emg_lg, ksci_emg_hg),
]
ANKLE = [
    (ah1_target_x, ah1_target_y, (ah1_pos_lg, ah1_pos_lg_lo, ah1_pos_lg_hi, ah1_pos_hg, ah1_pos_hg_lo, ah1_pos_hg_hi),
     (ah1_mom_lg, ah1_mom_lg_lo, ah1_mom_lg_hi, ah1_mom_hg, ah1_mom_hg_lo, ah1_mom_hg_hi), ah1_emg_lg, ah1_emg_hg),
    (ah2_target_x, ah2_target_y, (ah2_pos_lg, ah2_pos_lg_lo, ah2_pos_lg_hi, ah2_pos_hg, ah2_pos_hg_lo, ah2_pos_hg_hi),
     (ah2_mom_lg, ah2_mom_lg_lo, ah2_mom_lg_hi, ah2_mom_hg, ah2_mom_hg_lo, ah2_mom_hg_hi), ah2_emg_lg, ah2_emg_hg),
    (as1_target_x, as1_target_y, (as1_pos_lg, as1_pos_lg_lo, as1_pos_lg_hi, as1_pos_hg, as1_pos_hg_lo, as1_pos_hg_hi),
     (as1_mom_lg, as1_mom_lg_lo, as1_mom_lg_hi, as1_mom_hg, as1_mom_hg_lo, as1_mom_hg_hi), as1_emg_lg, as1_emg_hg),
    (as2_target_x, as2_target_y, (as2_pos_lg, as2_pos_lg_lo, as2_pos_lg_hi, as2_pos_hg, as2_pos_hg_lo, as2_pos_hg_hi),
     (as2_mom_lg, as2_mom_lg_lo, as2_mom_lg_hi, as2_mom_hg, as2_mom_hg_lo, as2_mom_hg_hi), as2_emg_lg, as2_emg_hg),
    (asci_target_x, asci_target_y, (asci_pos_lg, asci_pos_lg_lo, asci_pos_lg_hi, asci_pos_hg, asci_pos_hg_lo, asci_pos_hg_hi),
     (asci_mom_lg, asci_mom_lg_lo, asci_mom_lg_hi, asci_mom_hg, asci_mom_hg_lo, asci_mom_hg_hi), asci_emg_lg, asci_emg_hg),
]

# layout in pixels of the full-size figure
KNEE_COLS = [(216, 491), (567, 844), (918, 1194), (1271, 1546), (1622, 1899)]
KNEE_ROWS = [163, 367, 571, 774]
ANKLE_COLS = [(210, 485), (560, 836), (911, 1189), (1266, 1544), (1620, 1896)]
ANKLE_ROWS = [1004, 1207, 1411, 1615]
KNEE_TITLE_X = [361, 715, 1062, 1413, 1767]
ANKLE_TITLE_X = [345, 691, 1057, 1413, 1758]


def axes_px(fig, x0, x1, y0, y1):
    return fig.add_axes([x0 / W, 1 - y1 / H, (x1 - x0) / W, (y1 - y0) / H])


def fmt_tick(v, emg):
    s = f"{v:.1f}" if emg else f"{v:g}"
    return s.replace("-", "\u2212")


def style_axis(ax, spec, pad, emg=False):
    lim, ticks, shown = spec
    ax.set_ylim(*lim)
    ax.set_yticks(ticks)
    ax.set_yticklabels([fmt_tick(t, emg) if s else "" for t, s in zip(ticks, shown)])
    ax.set_xticks([])
    ax.tick_params(axis="y", labelsize=20, width=1.3, length=5, pad=pad)
    for sp in ax.spines.values():
        sp.set_linewidth(1.4)


def draw_series(ax, data, target=None):
    lg, lg_lo, lg_hi, hg, hg_lo, hg_hi = data
    ax.fill_between(X, lg_lo, lg_hi, color=LG_COLOR, alpha=0.38, lw=0)
    ax.fill_between(X, hg_lo, hg_hi, color=HG_COLOR, alpha=0.38, lw=0)
    if target is not None:
        ax.plot(target[0], target[1], color=TARGET_COLOR, lw=4.3, alpha=0.9, solid_joinstyle="miter")
    ax.plot(X, lg, color=LG_COLOR, lw=2)
    ax.plot(X, hg, color=HG_COLOR, lw=2)
    ax.set_xlim(-5, 105)


def draw_emg(ax, muscles, emg_lg, emg_hg, label_y):
    n = len(muscles)
    for i in range(n):
        xs = [100 * i + v for v in X]
        ax.fill_between(xs, 0, emg_lg[i], color=LG_COLOR, alpha=0.38, lw=0)
        ax.fill_between(xs, 0, emg_hg[i], color=HG_COLOR, alpha=0.38, lw=0)
        ax.plot(xs, emg_lg[i], color=LG_COLOR, lw=1.6)
        ax.plot(xs, emg_hg[i], color=HG_COLOR, lw=1.6)
        ax.text(100 * i + 50, label_y, muscles[i], transform=ax.get_xaxis_transform(),
                ha="center", va="top", fontsize=18)
        if i > 0:
            ax.axvline(100 * i, color="black", lw=1.4)
    ax.set_xlim(0, 100 * n)


def draw_joint(fig, columns, rows, title_x, title_y, panels, muscles, pos_axes, mom_axes, emg_axes, label_y):
    out = []
    for c, (x0, x1) in enumerate(columns):
        tx, ty, pos, mom, emg_lg, emg_hg = panels[c]
        ax_p = axes_px(fig, x0, x1, rows[0], rows[1])
        ax_m = axes_px(fig, x0, x1, rows[1], rows[2])
        ax_e = axes_px(fig, x0, x1, rows[2], rows[3])
        draw_series(ax_p, pos, (tx, ty))
        draw_series(ax_m, mom)
        draw_emg(ax_e, muscles, emg_lg, emg_hg, label_y)
        pad = 9 if c == 0 else 4
        style_axis(ax_p, pos_axes[c], pad)
        style_axis(ax_m, mom_axes[c], pad)
        style_axis(ax_e, emg_axes[c], pad, emg=True)
        fig.text(title_x[c] / W, 1 - title_y / H, GROUPS[c], ha="center", va="center", fontsize=23)
        out.append((ax_p, ax_m, ax_e))
    return out


def row_label(fig, text, y0, y1):
    fig.text(98 / W, 1 - (y0 + y1) / 2 / H, text, rotation=90, ha="center", va="center",
             fontsize=24, multialignment="center", linespacing=1.2)


def panel_frame(fig, y0, y1):
    x0, x1 = 5, 1939
    box = FancyBboxPatch((x0 / W, 1 - y1 / H), (x1 - x0) / W, (y1 - y0) / H,
                         boxstyle=f"round,pad=0,rounding_size={20 / W}", mutation_aspect=W / H,
                         transform=fig.transFigure, fill=False, ec="#808080", lw=7.5, zorder=-5)
    fig.add_artist(box)


def main():
    fig = plt.figure(figsize=(W / 100, H / 100), dpi=100)
    fig.patch.set_facecolor("white")

    panel_frame(fig, 5, 815)
    panel_frame(fig, 854, 1727)

    fig.text(1055 / W, 1 - 67 / H, "Knee", ha="center", va="center", fontsize=52, fontweight="bold")
    fig.text(1052 / W, 1 - 905 / H, "Ankle", ha="center", va="center", fontsize=52, fontweight="bold")

    draw_joint(fig, KNEE_COLS, KNEE_ROWS, KNEE_TITLE_X, 139, KNEE, KNEE_MUSCLES,
               knee_pos_axis, knee_mom_axis, knee_emg_axis, 0.975)
    ankle_axes = draw_joint(fig, ANKLE_COLS, ANKLE_ROWS, ANKLE_TITLE_X, 982, ANKLE, ANKLE_MUSCLES,
                            ankle_pos_axis, ankle_mom_axis, ankle_emg_axis, 0.95)

    for rows in (KNEE_ROWS, ANKLE_ROWS):
        row_label(fig, "Position\n[Degrees]", rows[0], rows[1])
        row_label(fig, "Moments\n[Nm]", rows[1], rows[2])
        row_label(fig, "EMG\n[-]", rows[2], rows[3])

    # %cycle annotations on the first ankle column
    ax_p, ax_m, ax_e = ankle_axes[0]
    tr = ax_m.get_xaxis_transform()
    ax_m.text(0, 0.985, "0", transform=tr, ha="center", va="top", fontsize=18)
    ax_m.text(47, 0.985, "%cycle", transform=tr, ha="center", va="top", fontsize=18)
    ax_m.text(94, 0.985, "100", transform=tr, ha="center", va="top", fontsize=18)
    tr = ax_e.get_xaxis_transform()
    for i in range(3):
        ax_e.text(100 * i + 50, -0.015, "%cycle", transform=tr, ha="center", va="top", fontsize=18)

    # small target legend inside the ankle SCI position panel
    ankle_axes[4][0].legend(handles=[Line2D([], [], color=TARGET_COLOR, lw=2.5, alpha=0.7)],
                            labels=["Target"], loc="lower center", bbox_to_anchor=(0.58, -0.04),
                            fontsize=6.5, frameon=False, handlelength=3.2)

    # main legend at the bottom
    y = 1 - 1667 / H
    for (a, b), color, lw, name, tx in [((218, 298), LG_COLOR, 5, "LG", 323),
                                        ((401, 480), HG_COLOR, 5, "HG", 506),
                                        ((589, 676), TARGET_COLOR, 8.5, "Target", 697)]:
        fig.add_artist(Line2D([a / W, b / W], [y, y], color=color, lw=lw, transform=fig.transFigure))
        fig.text(tx / W, y, name, ha="left", va="center", fontsize=28)

    fig.savefig("out.png", dpi=100, facecolor="white")


if __name__ == "__main__":
    main()
